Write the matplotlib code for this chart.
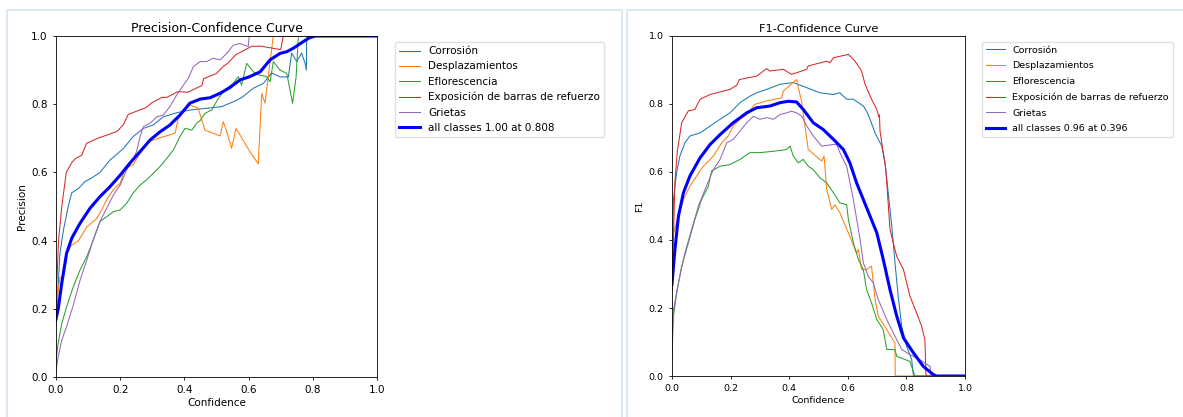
import matplotlib
matplotlib.use("Agg")
import matplotlib.pyplot as plt
from matplotlib.patches import Rectangle

W, H = 1183, 417

class_names = ["Corrosión", "Desplazamientos", "Eflorescencia",
               "Exposición de barras de refuerzo", "Grietas"]
class_colors = ["#1f77b4", "#ff7f0e", "#2ca02c", "#d62728", "#9467bd"]
ticks = [0.0, 0.2, 0.4, 0.6, 0.8, 1.0]

# ---- Precision vs confidence -------------------------------------------
p_corrosion_x = [0.0, 0.012, 0.023, 0.038, 0.049, 0.07, 0.09, 0.11, 0.137, 0.168, 0.21, 0.24,
                 0.272, 0.303, 0.334, 0.376, 0.417, 0.47, 0.516, 0.552, 0.578, 0.615, 0.646,
                 0.672, 0.698, 0.724, 0.734, 0.75, 0.765, 0.776, 0.78, 0.781, 1.0]
p_corrosion_y = [0.15, 0.36, 0.43, 0.50, 0.54, 0.553, 0.573, 0.583, 0.60, 0.636, 0.67, 0.705,
                 0.729, 0.739, 0.763, 0.775, 0.783, 0.788, 0.793, 0.807, 0.819, 0.847, 0.861,
                 0.892, 0.88, 0.88, 0.95, 0.925, 0.95, 0.92, 0.90, 1.0, 1.0]

p_desplaz_x = [0.0, 0.012, 0.023, 0.033, 0.049, 0.07, 0.096, 0.127, 0.142, 0.158, 0.179, 0.2,
               0.215, 0.24, 0.262, 0.288, 0.319, 0.371, 0.381, 0.417, 0.443, 0.464, 0.511,
               0.521, 0.532, 0.547, 0.561, 0.604, 0.63, 0.641, 0.651, 0.677, 1.0]
p_desplaz_y = [0.20, 0.29, 0.30, 0.36, 0.387, 0.40, 0.44, 0.465, 0.49, 0.52, 0.55, 0.568,
               0.612, 0.622, 0.656, 0.69, 0.70, 0.715, 0.759, 0.798, 0.788, 0.724, 0.707,
               0.749, 0.719, 0.671, 0.729, 0.661, 0.625, 0.832, 0.803, 1.0, 1.0]

p_eflor_x = [0.0, 0.007, 0.018, 0.033, 0.054, 0.075, 0.096, 0.116, 0.137, 0.158, 0.179, 0.2,
             0.22, 0.24, 0.262, 0.282, 0.303, 0.324, 0.345, 0.366, 0.386, 0.402, 0.423, 0.438,
             0.449, 0.464, 0.485, 0.506, 0.526, 0.552, 0.568, 0.578, 0.594, 0.615, 0.63,
             0.656, 0.667, 0.677, 0.698, 0.719, 0.727, 0.737, 0.748, 0.755, 1.0]
p_eflor_y = [0.05, 0.10, 0.157, 0.206, 0.265, 0.314, 0.353, 0.402, 0.456, 0.47, 0.485, 0.49,
             0.509, 0.539, 0.563, 0.578, 0.597, 0.617, 0.641, 0.666, 0.705, 0.729, 0.724, 0.744,
             0.752, 0.773, 0.783, 0.817, 0.842, 0.861, 0.881, 0.856, 0.92, 0.895, 0.886,
             0.881, 0.866, 0.925, 0.90, 0.89, 0.851, 0.803, 0.88, 1.0, 1.0]

p_expos_x = [0.0, 0.008, 0.018, 0.025, 0.032, 0.05, 0.06, 0.08, 0.095, 0.13, 0.19, 0.21,
             0.225, 0.28, 0.30, 0.33, 0.345, 0.38, 0.41, 0.455, 0.46, 0.50, 0.52, 0.535,
             0.56, 0.59, 0.61, 0.64, 0.70, 0.708, 1.0]
p_expos_y = [0.22, 0.40, 0.50, 0.55, 0.60, 0.63, 0.64, 0.65, 0.685, 0.70, 0.72, 0.74,
             0.77, 0.79, 0.805, 0.82, 0.82, 0.837, 0.835, 0.855, 0.875, 0.89, 0.91, 0.92,
             0.945, 0.96, 0.97, 0.97, 0.96, 1.0, 1.0]

p_grietas_x = [0.0, 0.007, 0.018, 0.033, 0.054, 0.075, 0.096, 0.116, 0.137, 0.158, 0.179,
               0.2, 0.22, 0.236, 0.251, 0.262, 0.272, 0.293, 0.314, 0.334, 0.355, 0.376,
               0.397, 0.412, 0.428, 0.449, 0.469, 0.49, 0.511, 0.532, 0.552, 0.573, 0.599,
               0.602, 1.0]
p_grietas_y = [0.02, 0.06, 0.108, 0.148, 0.211, 0.284, 0.343, 0.402, 0.456, 0.495, 0.534,
               0.563, 0.607, 0.631, 0.661, 0.705, 0.734, 0.744, 0.763, 0.768, 0.793, 0.827,
               0.856, 0.876, 0.91, 0.925, 0.925, 0.935, 0.93, 0.949, 0.973, 0.978, 0.969,
               1.0, 1.0]

p_all_x = [0.0, 0.007, 0.018, 0.033, 0.049, 0.075, 0.106, 0.137, 0.168, 0.2, 0.23, 0.262,
           0.293, 0.324, 0.355, 0.386, 0.417, 0.449, 0.48, 0.511, 0.542, 0.573, 0.604, 0.636,
           0.667, 0.698, 0.719, 0.739, 0.771, 0.79, 0.808, 1.0]
p_all_y = [0.17, 0.20, 0.275, 0.363, 0.407, 0.451, 0.495, 0.529, 0.558, 0.592, 0.627, 0.661,
           0.695, 0.719, 0.739, 0.768, 0.803, 0.815, 0.819, 0.832, 0.849, 0.871, 0.881, 0.895,
           0.93, 0.949, 0.954, 0.964, 0.984, 0.995, 1.0, 1.0]

# ---- F1 vs confidence ----------------------------------------------------
f_corrosion_x = [0.0, 0.005, 0.016, 0.027, 0.044, 0.061, 0.096, 0.13, 0.164, 0.198, 0.232,
                 0.266, 0.289, 0.323, 0.369, 0.414, 0.46, 0.505, 0.551, 0.573, 0.596, 0.619,
                 0.653, 0.664, 0.676, 0.693, 0.704, 0.716, 0.727, 0.738, 0.75, 0.761, 0.772,
                 0.784, 0.801, 0.818, 0.824, 1.0]
f_corrosion_y = [0.30, 0.52, 0.60, 0.647, 0.686, 0.706, 0.715, 0.735, 0.755, 0.774, 0.804,
                 0.823, 0.833, 0.843, 0.858, 0.863, 0.848, 0.833, 0.828, 0.833, 0.814, 0.814,
                 0.794, 0.779, 0.755, 0.715, 0.696, 0.676, 0.627, 0.539, 0.441, 0.333, 0.235,
                 0.146, 0.087, 0.048, 0.0, 0.0]

f_desplaz_x = [0.0, 0.005, 0.022, 0.039, 0.061, 0.084, 0.107, 0.141, 0.17, 0.192, 0.209,
               0.232, 0.255, 0.283, 0.323, 0.374, 0.38, 0.425, 0.443, 0.465, 0.511, 0.519,
               0.528, 0.545, 0.556, 0.573, 0.602, 0.63, 0.636, 0.647, 0.664, 0.681, 0.693,
               0.704, 0.733, 0.761, 0.762, 1.0]
f_desplaz_y = [0.25, 0.42, 0.47, 0.519, 0.558, 0.588, 0.617, 0.647, 0.686, 0.706, 0.735,
               0.755, 0.769, 0.799, 0.809, 0.818, 0.838, 0.872, 0.804, 0.666, 0.632, 0.647,
               0.549, 0.49, 0.504, 0.48, 0.421, 0.362, 0.372, 0.313, 0.313, 0.323, 0.225,
               0.176, 0.136, 0.097, 0.0, 0.0]

f_eflor_x = [0.0, 0.005, 0.016, 0.033, 0.056, 0.078, 0.101, 0.124, 0.135, 0.164, 0.198,
             0.232, 0.266, 0.30, 0.346, 0.391, 0.403, 0.414, 0.431, 0.448, 0.465, 0.482,
             0.505, 0.528, 0.551, 0.573, 0.596, 0.602, 0.619, 0.636, 0.653, 0.664, 0.681,
             0.699, 0.721, 0.733, 0.761, 0.767, 0.812, 0.829, 1.0]
f_eflor_y = [0.10, 0.176, 0.244, 0.323, 0.392, 0.46, 0.519, 0.558, 0.603, 0.617, 0.622,
             0.637, 0.657, 0.657, 0.661, 0.666, 0.676, 0.647, 0.627, 0.637, 0.617, 0.607,
             0.583, 0.568, 0.539, 0.509, 0.504, 0.46, 0.392, 0.343, 0.313, 0.254, 0.215,
             0.166, 0.136, 0.078, 0.078, 0.058, 0.043, 0.0, 0.0]

f_expos_x = [0.0, 0.01, 0.018, 0.027, 0.033, 0.056, 0.078, 0.096, 0.13, 0.198, 0.221, 0.23,
             0.289, 0.323, 0.334, 0.38, 0.408, 0.46, 0.465, 0.528, 0.539, 0.551, 0.602,
             0.625, 0.647, 0.659, 0.681, 0.699, 0.706, 0.708, 0.71, 0.721, 0.73, 0.744,
             0.755, 0.767, 0.79, 0.801, 0.812, 0.835, 0.852, 0.863, 0.867, 1.0]
f_expos_y = [0.25, 0.57, 0.66, 0.71, 0.745, 0.78, 0.784, 0.814, 0.828, 0.843, 0.855, 0.872,
             0.882, 0.904, 0.897, 0.902, 0.887, 0.902, 0.912, 0.926, 0.921, 0.936, 0.946,
             0.926, 0.897, 0.858, 0.814, 0.784, 0.762, 0.768, 0.72, 0.657, 0.607, 0.431,
             0.392, 0.352, 0.313, 0.274, 0.235, 0.185, 0.146, 0.107, 0.0, 0.0]

f_grietas_x = [0.0, 0.005, 0.022, 0.044, 0.067, 0.09, 0.113, 0.141, 0.164, 0.187, 0.209,
               0.232, 0.255, 0.278, 0.30, 0.323, 0.346, 0.369, 0.391, 0.408, 0.425, 0.443,
               0.46, 0.482, 0.511, 0.551, 0.562, 0.573, 0.596, 0.619, 0.642, 0.653, 0.67,
               0.687, 0.704, 0.733, 0.761, 0.784, 0.812, 0.846, 0.881, 0.883, 1.0]
f_grietas_y = [0.05, 0.195, 0.274, 0.362, 0.431, 0.50, 0.549, 0.607, 0.637, 0.686, 0.696,
               0.72, 0.745, 0.764, 0.755, 0.76, 0.755, 0.769, 0.774, 0.779, 0.774, 0.764,
               0.735, 0.706, 0.676, 0.681, 0.681, 0.657, 0.617, 0.519, 0.401, 0.333, 0.293,
               0.274, 0.225, 0.166, 0.117, 0.078, 0.063, 0.048, 0.028, 0.0, 0.0]

f_all_x = [0.0, 0.01, 0.022, 0.039, 0.061, 0.096, 0.13, 0.164, 0.209, 0.255, 0.289, 0.334,
           0.369, 0.396, 0.425, 0.448, 0.482, 0.516, 0.551, 0.585, 0.607, 0.63, 0.653, 0.676,
           0.699, 0.721, 0.744, 0.767, 0.79, 0.824, 0.858, 0.892, 0.903, 1.0]
f_all_y = [0.27, 0.372, 0.47, 0.539, 0.588, 0.642, 0.681, 0.71, 0.745, 0.774, 0.789, 0.794,
           0.804, 0.808, 0.806, 0.784, 0.745, 0.725, 0.696, 0.666, 0.627, 0.568, 0.519, 0.47,
           0.421, 0.343, 0.254, 0.176, 0.112, 0.068, 0.028, 0.004, 0.0, 0.0]

p_series = [(p_corrosion_x, p_corrosion_y), (p_desplaz_x, p_desplaz_y),
            (p_eflor_x, p_eflor_y), (p_expos_x, p_expos_y), (p_grietas_x, p_grietas_y)]
f_series = [(f_corrosion_x, f_corrosion_y), (f_desplaz_x, f_desplaz_y),
            (f_eflor_x, f_eflor_y), (f_expos_x, f_expos_y), (f_grietas_x, f_grietas_y)]

p_all_label = "all classes 1.00 at 0.808"
f_all_label = "all classes 0.96 at 0.396"

plt.rcParams.update({
    "font.family": "DejaVu Sans",
    "axes.linewidth": 0.6,
    "xtick.major.size": 2.5,
    "ytick.major.size": 2.5,
    "xtick.major.width": 0.6,
    "ytick.major.width": 0.6,
})

fig = plt.figure(figsize=(W / 100, H / 100), dpi=100)


def px_rect(x0, y0, x1, y1):
    """Axes rectangle from pixel edges (top-left origin)."""
    return [x0 / W, 1 - y1 / H, (x1 - x0) / W, (y1 - y0) / H]


# panel frames
border = "#dce8f6"
fig.patches.append(Rectangle((7 / W, -0.05), (622 - 7) / W, 1.05 - 10 / H,
                             transform=fig.transFigure, fill=False,
                             edgecolor=border, linewidth=1.5))
fig.patches.append(Rectangle((627 / W, -0.05), 1.1, 1.05 - 10 / H,
                             transform=fig.transFigure, fill=False,
                             edgecolor=border, linewidth=1.5))


def draw_panel(rect, series, all_x, all_y, all_label, ylabel, title, legend_xy,
               fs, title_fs, spacing):
    ax = fig.add_axes(px_rect(*rect))
    for (xs, ys), name, col in zip(series, class_names, class_colors):
        ax.plot(xs, ys, color=col, linewidth=0.75, label=name)
    ax.plot(all_x, all_y, color="blue", linewidth=2.2, label=all_label)
    ax.set_xlim(0, 1)
    ax.set_ylim(0, 1)
    ax.set_xticks(ticks)
    ax.set_yticks(ticks)
    ax.tick_params(labelsize=fs)
    ax.set_xlabel("Confidence", labelpad=2, fontsize=fs)
    ax.set_ylabel(ylabel, labelpad=3, fontsize=fs)
    ax.set_title(title, fontsize=title_fs, pad=3)
    ax.legend(loc="upper left", bbox_to_anchor=(legend_xy[0] / W, 1 - legend_xy[1] / H),
              bbox_transform=fig.transFigure, borderaxespad=0, fontsize=fs,
              handlelength=2.0, labelspacing=spacing, framealpha=0.8,
              edgecolor="0.85", fancybox=True)
    return ax


draw_panel((56, 36, 377, 377), p_series, p_all_x, p_all_y, p_all_label,
           "Precision", "Precision-Confidence Curve", (395, 42), 7.5, 9.0, 0.5)
draw_panel((672, 36, 965, 376), f_series, f_all_x, f_all_y, f_all_label,
           "F1", "F1-Confidence Curve", (982, 42), 6.8, 8.2, 0.7)

fig.savefig("out.png", dpi=100)
